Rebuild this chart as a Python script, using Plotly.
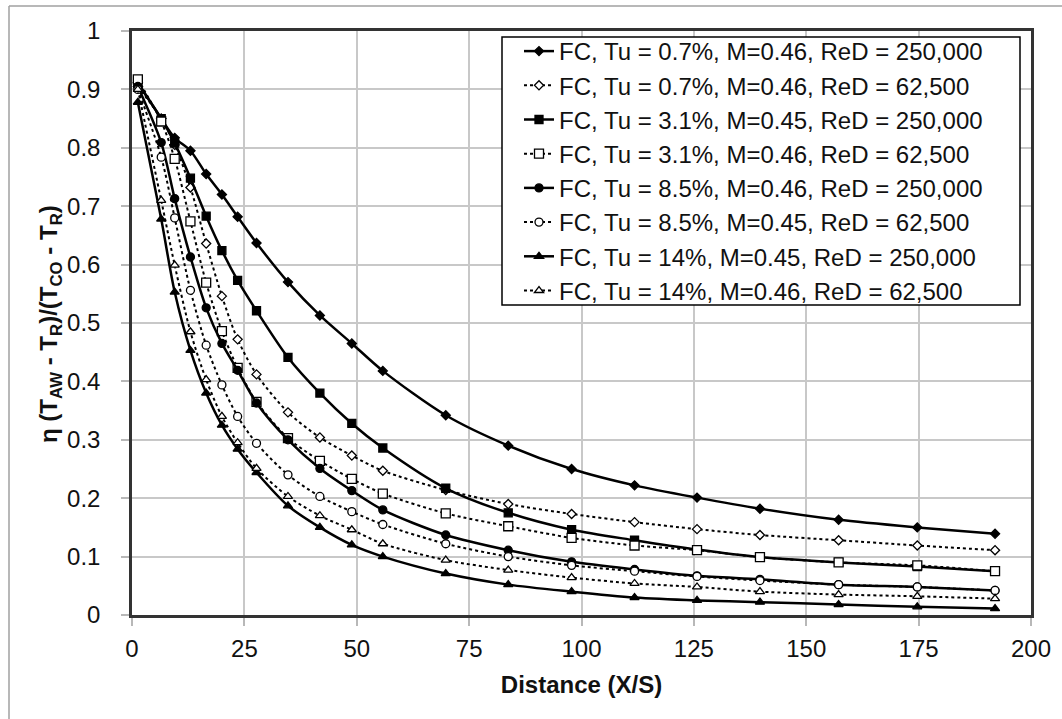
import plotly.graph_objects as go

# Distance X/S sample positions
X = [1.3, 6.5, 9.5, 13.0, 16.5, 20.0, 23.5, 27.7, 34.7, 41.8, 48.9, 55.8, 69.8,
     83.7, 97.8, 111.8, 125.7, 139.7, 157.2, 174.7, 192.0]

eta_07_250k = [0.912, 0.850, 0.817, 0.795, 0.755, 0.720, 0.682, 0.637, 0.570, 0.513, 0.465,
               0.418, 0.342, 0.290, 0.250, 0.222, 0.201, 0.182, 0.163, 0.150, 0.139]
eta_07_62k = [0.905, 0.850, 0.805, 0.732, 0.636, 0.546, 0.472, 0.412, 0.347, 0.304, 0.273,
              0.247, 0.214, 0.190, 0.173, 0.159, 0.147, 0.137, 0.128, 0.119, 0.111]
eta_31_250k = [0.910, 0.850, 0.808, 0.748, 0.683, 0.624, 0.573, 0.521, 0.441, 0.380, 0.328,
               0.286, 0.217, 0.175, 0.146, 0.128, 0.112, 0.099, 0.090, 0.083, 0.075]
eta_31_62k = [0.917, 0.845, 0.781, 0.674, 0.569, 0.486, 0.423, 0.365, 0.303, 0.264, 0.233,
              0.208, 0.174, 0.152, 0.132, 0.119, 0.111, 0.099, 0.090, 0.085, 0.075]
eta_85_250k = [0.905, 0.809, 0.713, 0.613, 0.526, 0.465, 0.419, 0.363, 0.300, 0.251, 0.213,
               0.180, 0.137, 0.111, 0.091, 0.078, 0.067, 0.061, 0.052, 0.048, 0.042]
eta_85_62k = [0.900, 0.784, 0.680, 0.556, 0.462, 0.394, 0.340, 0.294, 0.240, 0.203, 0.177,
              0.155, 0.122, 0.100, 0.085, 0.075, 0.066, 0.059, 0.052, 0.048, 0.042]
eta_14_250k = [0.878, 0.678, 0.553, 0.453, 0.380, 0.325, 0.284, 0.244, 0.187, 0.150, 0.120,
               0.100, 0.071, 0.052, 0.040, 0.030, 0.025, 0.022, 0.018, 0.014, 0.011]
eta_14_62k = [0.900, 0.710, 0.599, 0.485, 0.403, 0.340, 0.295, 0.251, 0.203, 0.170, 0.146,
              0.122, 0.094, 0.077, 0.064, 0.054, 0.048, 0.040, 0.035, 0.032, 0.028]

names = [
    "FC, Tu = 0.7%, M=0.46, ReD = 250,000",
    "FC, Tu = 0.7%, M=0.46, ReD = 62,500",
    "FC, Tu = 3.1%, M=0.45, ReD = 250,000",
    "FC, Tu = 3.1%, M=0.46, ReD = 62,500",
    "FC, Tu = 8.5%, M=0.46, ReD = 250,000",
    "FC, Tu = 8.5%, M=0.45, ReD = 62,500",
    "FC, Tu = 14%, M=0.45, ReD = 250,000",
    "FC, Tu = 14%, M=0.46, ReD = 62,500",
]
series = [eta_07_250k, eta_07_62k, eta_31_250k, eta_31_62k,
          eta_85_250k, eta_85_62k, eta_14_250k, eta_14_62k]

# style: (symbol, size, filled, dashed)
styles = [
    ("diamond", 7, True, False),
    ("diamond", 7, False, True),
    ("square", 8, True, False),
    ("square", 9, False, True),
    ("circle", 8, True, False),
    ("circle", 8, False, True),
    ("triangle-up", 8, True, False),
    ("triangle-up", 8, False, True),
]

FONT = "Liberation Sans, Arial, sans-serif"
fig = go.Figure()
for name, ys, (sym, size, filled, dashed) in zip(names, series, styles):
    fig.add_trace(go.Scatter(
        x=X, y=ys, name=name, mode="lines+markers",
        line=dict(color="black", width=2 if dashed else 2.5,
                  dash="dot" if dashed else "solid", shape="spline", smoothing=0.8),
        marker=dict(symbol=sym, size=size,
                    color="black" if filled else "white",
                    line=dict(color="black", width=1.3)),
    ))

W, H = 1062, 719
L, R, T, B = 132, 31, 31, 104
pw, ph = W - L - R, H - T - B


def px_x(p):
    return (p - L) / pw


def px_y(p):
    return (H - B - p) / ph


fig.update_layout(
    width=W, height=H,
    margin=dict(l=L, r=R, t=T, b=B, pad=0),
    paper_bgcolor="white", plot_bgcolor="white",
    font=dict(family=FONT, color="#111", size=24),
    showlegend=True,
    legend=dict(
        x=px_x(519), y=px_y(29), xanchor="left", yanchor="top",
        bgcolor="rgba(0,0,0,0)", borderwidth=0,
        font=dict(family=FONT, size=24, color="#111"),
        tracegroupgap=0, itemwidth=30,
    ),
    xaxis=dict(
        range=[0, 200], dtick=25, tick0=0,
        showgrid=True, gridcolor="#c8c8c8", gridwidth=1.5,
        showline=True, mirror=True, linecolor="#333", linewidth=2.5,
        ticks="outside", ticklen=8, tickcolor="#b8b8b8", tickwidth=1.5,
        tickfont=dict(size=24, family=FONT, color="#111"),
        ticklabelstandoff=2,
        zeroline=False,
        title=dict(text="<b>Distance (X/S)</b>", font=dict(size=24, family=FONT, color="#111"),
                   standoff=16),
    ),
    yaxis=dict(
        range=[0, 1], dtick=0.1, tick0=0,
        showgrid=True, gridcolor="#c8c8c8", gridwidth=1.5,
        showline=True, mirror=True, linecolor="#333", linewidth=2.5,
        ticks="outside", ticklen=8, tickcolor="#b8b8b8", tickwidth=1.5,
        tickfont=dict(size=24, family=FONT, color="#111"),
        ticklabelstandoff=16,
        zeroline=False,
    ),
    annotations=[dict(
        text="<b>η (T<sub>AW</sub> - T<sub>R</sub>)/(T<sub>CO</sub> - T<sub>R</sub>)</b>",
        textangle=-90, xref="paper", yref="paper",
        x=px_x(50), y=px_y(324), xanchor="center", yanchor="middle",
        showarrow=False, font=dict(size=24, family=FONT, color="#111"),
    )],
    shapes=[
        # legend frame
        dict(type="rect", xref="paper", yref="paper", layer="above",
             x0=px_x(502), x1=px_x(1020), y0=px_y(37), y1=px_y(305),
             line=dict(color="black", width=1.5), fillcolor="white"),
        # chart-area border (top and left visible)
        dict(type="line", xref="paper", yref="paper",
             x0=px_x(9), x1=px_x(1062), y0=px_y(6), y1=px_y(6),
             line=dict(color="#a0a0a0", width=1.5)),
        dict(type="line", xref="paper", yref="paper",
             x0=px_x(9), x1=px_x(9), y0=px_y(6), y1=px_y(719),
             line=dict(color="#a0a0a0", width=1.5)),
    ],
)

fig.write_html(
    "out.html",
    config={"displayModeBar": False},
    post_script="document.body.style.margin='0';document.body.style.overflow='hidden';",
)
